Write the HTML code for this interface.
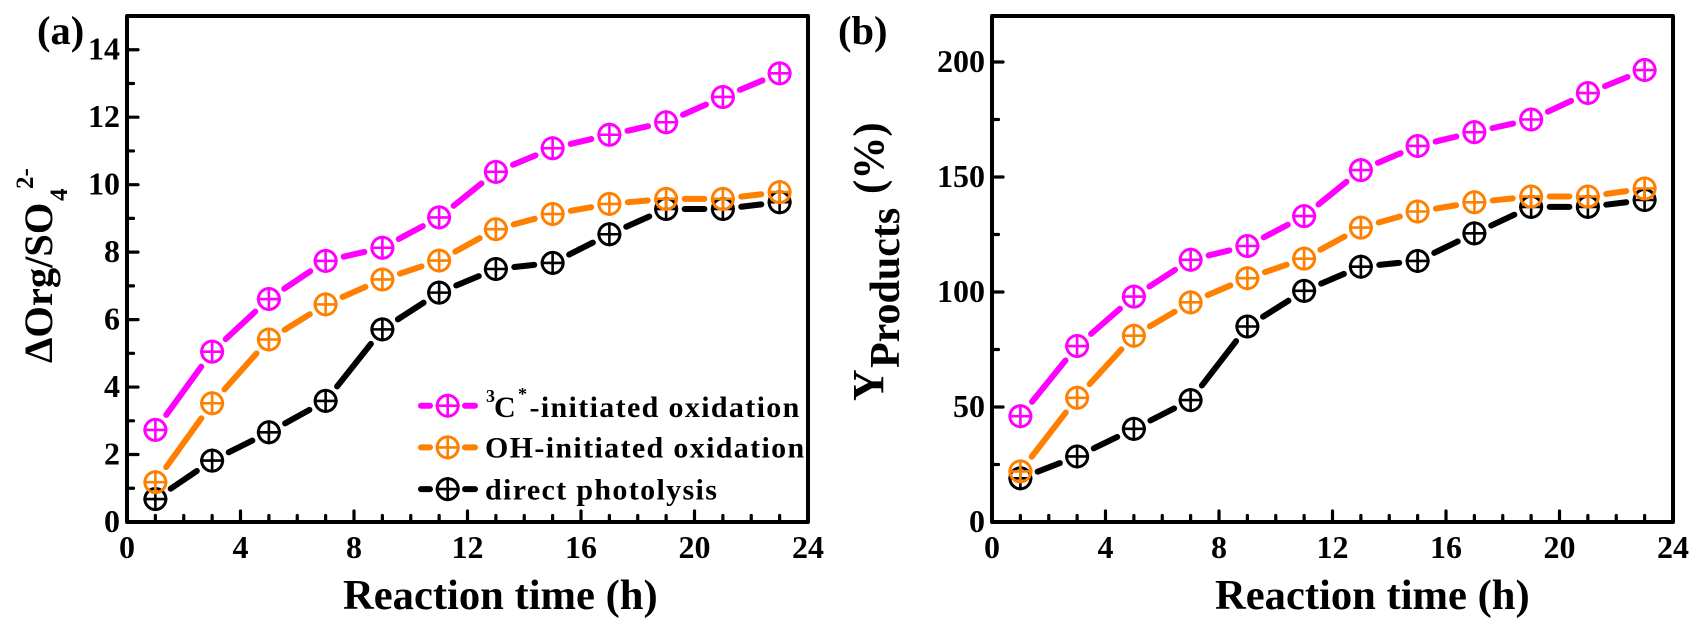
<!DOCTYPE html>
<html lang="en">
<head>
<meta charset="utf-8">
<title>Reaction time charts</title>
<style>
html,body{margin:0;padding:0;background:#fff;width:1704px;height:636px;overflow:hidden}
svg{display:block}
text{font-family:"Liberation Serif",serif;font-weight:bold;fill:#000}
</style>
</head>
<body>
<svg id="fig" xmlns="http://www.w3.org/2000/svg" width="1704" height="636" viewBox="0 0 1704 636">
  <rect width="1704" height="636" fill="#fff"/>
  <g id="panel-a"></g>
  <g id="panel-b"></g>

  <text x="37" y="44" font-size="40.5">(a)</text>
  <text x="838" y="44" font-size="40.5">(b)</text>

  <text x="343" y="609" font-size="42.6">Reaction time (h)</text>
  <text x="1215" y="609" font-size="42.6">Reaction time (h)</text>

  <g>
    <text transform="translate(52,363) rotate(-90)" font-size="40.5">ΔOrg/SO</text>
    <text transform="translate(67,201) rotate(-90)" font-size="25">4</text>
    <text transform="translate(33,189) rotate(-90)" font-size="25">2-</text>
  </g>
  <g>
    <text transform="translate(883,401) rotate(-90)" font-size="44">Y</text>
    <text transform="translate(899,368) rotate(-90)" font-size="42">Products</text>
    <text transform="translate(883,194) rotate(-90)" font-size="43">(%)</text>
  </g>

  <g id="legend">
    <g>
      <text x="486" y="402" font-size="18">3</text>
      <text x="494" y="417" font-size="30" letter-spacing="1.35">C</text>
      <text x="518" y="400" font-size="18">*</text>
      <text x="529.5" y="417" font-size="30" letter-spacing="1.35">-initiated oxidation</text>
    </g>
    <g>
      <text x="485" y="457.5" font-size="30" letter-spacing="1.35">OH-initiated oxidation</text>
    </g>
    <g>
      <text x="485" y="499.5" font-size="30" letter-spacing="1.35">direct photolysis</text>
    </g>
  </g>
</svg>
<script>
// Shared x data
var hours = [1, 3, 5, 7, 9, 11, 13, 15, 17, 19, 21, 23];

// Panel (a): ΔOrg/SO4 2-
var aTripletValues = [2.73, 5.05, 6.61, 7.74, 8.13, 9.03, 10.38, 11.08, 11.48, 11.85, 12.6, 13.3];
var aHydroxylValues = [1.18, 3.52, 5.41, 6.45, 7.19, 7.75, 8.68, 9.13, 9.43, 9.58, 9.58, 9.78];
var aDirectValues = [0.68, 1.82, 2.66, 3.59, 5.71, 6.8, 7.5, 7.68, 8.53, 9.28, 9.28, 9.48];

// Panel (b): Y Products (%)
var bTripletValues = [46, 76.5, 98, 114, 120, 133, 153, 163.5, 169.5, 175, 186.5, 196.5];
var bHydroxylValues = [22, 54, 81, 95.5, 106, 114.5, 128, 135, 139, 141.5, 141.5, 145];
var bDirectValues = [19, 28.5, 40.5, 53, 85, 100.5, 111, 113.5, 125.5, 137, 137, 140];

// Tick labels
var xTickLabels = [0, 4, 8, 12, 16, 20, 24];
var aYTickLabels = [0, 2, 4, 6, 8, 10, 12, 14];
var bYTickLabels = [0, 50, 100, 150, 200];

var NS = 'http://www.w3.org/2000/svg';
var MAGENTA = '#ff00ff', ORANGE = '#ff8000', BLACK = '#000000';

function mk(parent, tag, attrs) {
  var el = document.createElementNS(NS, tag);
  for (var k in attrs) el.setAttribute(k, attrs[k]);
  parent.appendChild(el);
  return el;
}

function drawMarker(parent, cx, cy, color) {
  var g = mk(parent, 'g', {fill: 'none', stroke: color, 'stroke-width': 3});
  
  
  mk(g, 'circle', {cx: cx, cy: cy, r: 10.5});
  mk(g, 'line', {x1: cx - 12, y1: cy, x2: cx + 12, y2: cy, 'stroke-width': 2.6});
  mk(g, 'line', {x1: cx, y1: cy - 12, x2: cx, y2: cy + 12, 'stroke-width': 2.6});
}

function drawSeries(parent, name, xs, ys, color, xAxis, yAxis) {
  var g = mk(parent, 'g', {});
  
  
  var gap = 18.5;
  for (var i = 0; i < xs.length - 1; i++) {
    var x1 = xAxis(xs[i]), y1 = yAxis(ys[i]), x2 = xAxis(xs[i + 1]), y2 = yAxis(ys[i + 1]);
    var d = Math.hypot(x2 - x1, y2 - y1), ux = (x2 - x1) / d, uy = (y2 - y1) / d;
    var seg = mk(g, 'line', {
      x1: x1 + ux * gap, y1: y1 + uy * gap, x2: x2 - ux * gap, y2: y2 - uy * gap,
      stroke: color, 'stroke-width': 6, 'stroke-linecap': 'round'
    });
    
    
  }
  for (var j = 0; j < xs.length; j++) drawMarker(g, xAxis(xs[j]), yAxis(ys[j]), color);
}

function drawPanel(id, left, yMax, yMajor, yMinor, yLabels, series) {
  var root = document.getElementById(id);
  var right = left + 681, top = 16, bottom = 522;
  var xAxis = function (v) { return left + v / 24 * (right - left); };
  var yAxis = function (v) { return bottom - v / yMax * (bottom - top); };

  var ticks = mk(root, 'g', {stroke: '#000', 'stroke-width': 3.2, 'stroke-linecap': 'round'});
  
  
  for (var h = 1; h < 24; h++) {
    var xp = xAxis(h), len = h % 4 === 0 ? 11 : 6.5;
    mk(ticks, 'line', {x1: xp, y1: bottom, x2: xp, y2: bottom - len});
  }
  for (var v = yMinor; v < yMax; v += yMinor) {
    var yp = yAxis(v), l2 = v % yMajor === 0 ? 11 : 6.5;
    mk(ticks, 'line', {x1: left, y1: yp, x2: left + l2, y2: yp});
  }

  var spine = mk(root, 'rect', {
    x: left, y: top, width: right - left, height: bottom - top,
    fill: 'none', stroke: '#000', 'stroke-width': 4, 'stroke-linejoin': 'round'
  });
  
  

  xTickLabels.forEach(function (t) {
    var el = mk(root, 'text', {x: xAxis(t), y: 558, 'font-size': 32, 'text-anchor': 'middle'});
    el.textContent = t;
    
    
  });
  yLabels.forEach(function (t) {
    var el = mk(root, 'text', {x: left - 7, y: yAxis(t) + 10, 'font-size': 32, 'text-anchor': 'end'});
    el.textContent = t;
    
    
  });

  series.forEach(function (s) {
    drawSeries(root, s.name, hours, s.values, s.color, xAxis, yAxis);
  });
}

drawPanel('panel-a', 127, 15, 2, 1, aYTickLabels, [
  {name: 'series-direct-photolysis-a', values: aDirectValues, color: BLACK},
  {name: 'series-oh-oxidation-a', values: aHydroxylValues, color: ORANGE},
  {name: 'series-3c-oxidation-a', values: aTripletValues, color: MAGENTA}
]);
drawPanel('panel-b', 992, 220, 50, 25, bYTickLabels, [
  {name: 'series-direct-photolysis-b', values: bDirectValues, color: BLACK},
  {name: 'series-oh-oxidation-b', values: bHydroxylValues, color: ORANGE},
  {name: 'series-3c-oxidation-b', values: bTripletValues, color: MAGENTA}
]);

// Legend samples
var legendEntries = [
  {color: MAGENTA, name: 'legend-sample-3c'},
  {color: ORANGE, name: 'legend-sample-oh'},
  {color: BLACK, name: 'legend-sample-direct'}
];
var legendRoot = document.getElementById('legend');
legendEntries.forEach(function (e, i) {
  var cy = 405.7 + i * 41.7;
  var g = mk(legendRoot, 'g', {});
  
  
  mk(g, 'line', {x1: 421, y1: cy, x2: 430, y2: cy, stroke: e.color, 'stroke-width': 6, 'stroke-linecap': 'round'});
  mk(g, 'line', {x1: 465, y1: cy, x2: 475, y2: cy, stroke: e.color, 'stroke-width': 6, 'stroke-linecap': 'round'});
  drawMarker(g, 447.7, cy, e.color);
});
</script>
</body>
</html>
